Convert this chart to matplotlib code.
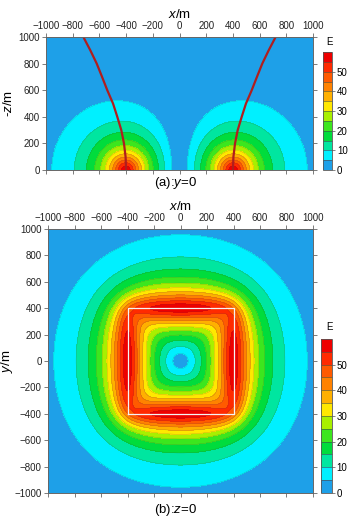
import numpy as np
import matplotlib
matplotlib.use("Agg")
import matplotlib.pyplot as plt

plt.rcParams['font.family'] = ['Liberation Sans', 'DejaVu Sans']
plt.rcParams['mathtext.fontset'] = 'custom'
plt.rcParams['mathtext.rm'] = 'Liberation Sans'
plt.rcParams['mathtext.it'] = 'Liberation Sans:italic'

# colour scale of E
levels = [0, 5, 10, 15, 20, 25, 30, 35, 40, 45, 50, 55, 60]
band_colors = ['#1EA0E8', '#00F0FF', '#00E6A0', '#00DC3C', '#3CE61E', '#A8F000',
               '#FFE800', '#FFB000', '#FF8200', '#FF5A00', '#FF2A00', '#EE0000']
cbar_ticks = [0, 10, 20, 30, 40, 50]

x_ticks = [-1000, -800, -600, -400, -200, 0, 200, 400, 600, 800, 1000]
z_ticks = [0, 200, 400, 600, 800, 1000]
y_ticks = [-1000, -800, -600, -400, -200, 0, 200, 400, 600, 800, 1000]

# square source loop (half side, m) and its outline
loop_half = 400.0
loop_x = [-400, 400, 400, -400, -400]
loop_y = [-400, -400, 400, 400, -400]

# red curve in the y=0 section (left branch, right one is its mirror)
curve_z = [0, 100, 200, 300, 400, 500, 600, 700, 800, 900, 1000]
curve_x = [-400, -404, -416, -436, -466, -498, -541, -580, -620, -668, -720]

# contour crossings read off the picture, measured from the middle of a side
# outward in the z=0 plane
out_d = [0, 27, 64, 92, 115, 145, 178, 216, 254, 303, 380, 565]
out_E = [57, 55, 50, 45, 40, 35, 30, 25, 20, 15, 10, 5]
# inward (towards the loop centre)
in_d = [51, 77, 102, 120, 140, 177, 215, 253, 291, 338]
in_E = [50, 45, 40, 35, 30, 25, 20, 15, 10, 5]
# downward below the side (y=0 section)
down_z = [175, 256, 356, 580]
down_E = [20, 15, 10, 5]
# levels 5 and 10 on the diagonal of the z=0 plane
diag_r = [965, 790]
diag_E = [5, 10]


def loop_vec(X, Y, Z, delta, h, a=loop_half, n=200):
    ds = 2 * a / n
    s = -a + (np.arange(n) + 0.5) * ds

    def kern(r2):
        r = np.sqrt(r2 + h * h + 1.0)
        return np.exp(-r / delta) / r

    ax_ = np.zeros_like(X, dtype=float)
    ay_ = np.zeros_like(X, dtype=float)
    for si in s:
        ax_ += kern((X - si)**2 + (Y + a)**2 + Z**2) - kern((X - si)**2 + (Y - a)**2 + Z**2)
        ay_ += kern((X - a)**2 + (Y - si)**2 + Z**2) - kern((X + a)**2 + (Y - si)**2 + Z**2)
    return ds * np.hypot(ax_, ay_)


# fit decay length, core size and gain to the read crossings (relative error)
px = np.concatenate([-loop_half - np.array(out_d, float), -loop_half + np.array(in_d, float),
                     np.full(len(down_z), -loop_half), np.array(diag_r) / np.sqrt(2)])
py = np.concatenate([np.zeros(len(out_d) + len(in_d) + len(down_z)), np.array(diag_r) / np.sqrt(2)])
pz = np.concatenate([np.zeros(len(out_d) + len(in_d)), np.array(down_z, float), np.zeros(len(diag_r))])
pE = np.array(out_E + in_E + down_E + diag_E, float)

best = None
for delta in [200, 250, 300, 350, 400, 450, 500, 600, 700, 800, 1000, 1300, 1800, 3000]:
    for h in [0, 10, 20, 30, 40, 50, 60, 70, 80, 100, 120, 150]:
        m = loop_vec(px, py, pz, delta, h) / pE
        g = m.sum() / (m * m).sum()
        err = ((g * m - 1.0)**2).sum()
        if best is None or err < best[0]:
            best = (err, delta, h, g)
_, skin, core, gain = best


def loop_field(X, Y, Z):
    return np.clip(gain * loop_vec(X, Y, Z, skin, core), 0, 59.99)


def style_axes(ax, xt, yt):
    ax.set_xticks(xt)
    ax.set_yticks(yt)
    ax.tick_params(direction='out', length=3, width=0.6, top=True, right=True,
                   labelsize=7, colors='#222222', pad=1.5)
    ax.tick_params(axis='both', color='#666666')
    for sp in ax.spines.values():
        sp.set_color('#666666')
        sp.set_linewidth(0.7)


def style_cbar(cb):
    cb.outline.set_linewidth(0.6)
    cb.outline.set_edgecolor('#555555')
    cb.dividers.set_color('#444444')
    cb.dividers.set_linewidth(0.4)
    cb.ax.tick_params(direction='out', length=2, width=0.5, labelsize=7, pad=1.5,
                      color='#555555')


fig = plt.figure(figsize=(3.52, 5.22), dpi=100)

# (a) y = 0 section
xa = np.linspace(-1000, 1000, 401)
za = np.linspace(0, 1000, 201)
XA, ZA = np.meshgrid(xa, za)
EA = loop_field(XA, np.zeros_like(XA), ZA)

ax1 = fig.add_axes([0.1307, 0.6743, 0.7585, 0.2548])
cf1 = ax1.contourf(XA, ZA, EA, levels=levels, colors=band_colors)
ax1.contour(XA, ZA, EA, levels=levels[1:-1], colors='#404040', linewidths=0.2, alpha=0.5)
cx = np.array(curve_x)
ax1.plot(cx, curve_z, color='#B01E1E', lw=1.6)
ax1.plot(-cx, curve_z, color='#B01E1E', lw=1.6)
ax1.set_xlim(-1000, 1000)
ax1.set_ylim(0, 1000)
style_axes(ax1, x_ticks, z_ticks)
ax1.xaxis.tick_top()
ax1.tick_params(bottom=True, labelbottom=False)
ax1.xaxis.set_label_position('top')
ax1.set_xlabel(r'$x$/m', fontsize=9.5, labelpad=2)
ax1.set_ylabel(r'-$z$/m', fontsize=9.5, labelpad=2)
fig.text(0.5, 0.649, r'(a):$y$=0', ha='center', va='center', fontsize=9.5)

cax1 = fig.add_axes([0.9176, 0.6743, 0.0256, 0.226])
cb1 = fig.colorbar(cf1, cax=cax1, ticks=cbar_ticks, drawedges=True)
style_cbar(cb1)
fig.text(0.935, 1 - 42 / 522, 'E', ha='center', va='center', fontsize=7)

# (b) z = 0 plane
xb = np.linspace(-1000, 1000, 401)
yb = np.linspace(-1000, 1000, 401)
XB, YB = np.meshgrid(xb, yb)
EB = loop_field(XB, YB, np.zeros_like(XB))

ax2 = fig.add_axes([0.1364, 0.0556, 0.7528, 0.5057])
cf2 = ax2.contourf(XB, YB, EB, levels=levels, colors=band_colors)
ax2.contour(XB, YB, EB, levels=levels[1:-1], colors='#404040', linewidths=0.2, alpha=0.5)
ax2.plot(loop_x, loop_y, color='#F4F4F4', lw=0.9)
ax2.set_xlim(-1000, 1000)
ax2.set_ylim(-1000, 1000)
style_axes(ax2, x_ticks, y_ticks)
ax2.xaxis.tick_top()
ax2.tick_params(bottom=True, labelbottom=False)
ax2.xaxis.set_label_position('top')
ax2.set_xlabel(r'$x$/m', fontsize=9.5, labelpad=2)
ax2.set_ylabel(r'$y$/m', fontsize=9.5, labelpad=0)
fig.text(0.5, 0.023, r'(b):$z$=0', ha='center', va='center', fontsize=9.5)

cax2 = fig.add_axes([0.9119, 0.0556, 0.031, 0.295])
cb2 = fig.colorbar(cf2, cax=cax2, ticks=cbar_ticks, drawedges=True)
style_cbar(cb2)
fig.text(0.937, 1 - 327 / 522, 'E', ha='center', va='center', fontsize=7)

fig.savefig('out.png', dpi=100)
